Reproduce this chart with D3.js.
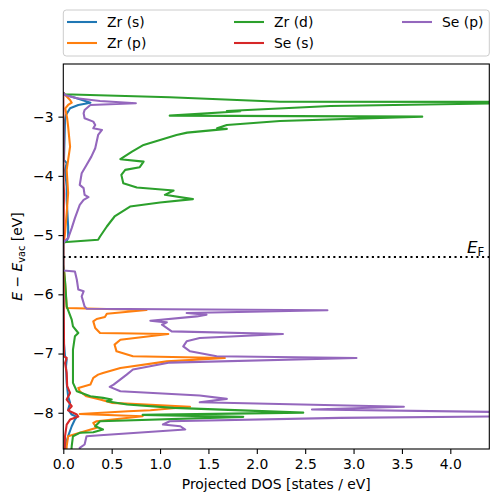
<!DOCTYPE html>
<html><head><meta charset="utf-8">
<script src="https://cdn.jsdelivr.net/npm/d3@7"></script>
<style>body{margin:0;background:#fff}svg{display:block;font-family:"DejaVu Sans",sans-serif}</style>
</head><body><div id="chart"></div>
<script>
// ---- data: [energy (eV), projected DOS (states/eV)] ----
const seriesNames = ["Zr (s)", "Zr (p)", "Zr (d)", "Se (s)", "Se (p)"];
const seriesColors = ["#1f77b4", "#ff7f0e", "#2ca02c", "#d62728", "#9467bd"];
const fermiLevel = -5.37;
const xTicks = [0, 0.5, 1, 1.5, 2, 2.5, 3, 3.5, 4];
const yTicks = [-3, -4, -5, -6, -7, -8];

const zrS = [[-2.60,0],[-2.622,0],[-2.69,0.14],[-2.764,0.28],[-2.803,0.155],[-2.858,0.07],[-2.97,0.028],[-3.056,0.018],[-3.73,0.007],[-3.786,0.035],[-3.899,0.018],[-4.18,0.035],[-4.405,0.035],[-4.855,0.05],[-5.05,0.05],[-5.096,0.035],[-5.13,0],
 [-5.6,0],[-6.8,0.005],[-7.047,0.018],[-7.103,0.035],[-7.216,0.028],[-7.496,0.035],[-7.722,0.05],[-7.833,0.07],[-7.946,0.05],[-8.03,0.087],[-8.07,0.14],[-8.115,0.12],[-8.228,0.087],[-8.396,0.05],[-8.565,0.018],[-8.7,0.01]];

const zrP = [[-2.60,0],[-2.634,0.02],[-2.718,0.07],[-2.764,0.087],[-2.803,0.05],[-2.86,0.02],[-3.027,0.04],[-3.17,0.05],[-3.506,0.07],[-3.90,0.035],[-4.29,0.05],[-4.63,0.035],[-4.966,0.018],[-5.11,0.007],[-5.15,0],
 [-5.50,0],[-5.585,0.007],[-5.81,0.018],[-6.204,0.035],[-6.231,0.035],[-6.265,0.86],[-6.327,0.45],[-6.383,0.43],[-6.417,0.345],[-6.457,0.31],[-6.568,0.33],[-6.653,0.38],[-6.67,1.085],[-6.766,0.59],[-6.85,0.53],[-6.963,0.55],[-7.047,0.72],[-7.074,1.67],[-7.132,1.07],[-7.243,0.59],[-7.327,0.41],[-7.356,0.36],[-7.41,0.31],[-7.524,0.28],[-7.58,0.155],[-7.637,0.17],[-7.722,0.24],[-7.777,0.38],[-7.833,0.50],[-7.90,1.31],[-7.958,0.90],[-7.975,0.67],[-8.022,0.17],[-8.059,0.82],[-8.143,0.345],[-8.17,0.31],[-8.255,0.345],[-8.339,0.17],[-8.396,0.05],[-8.565,0.035],[-8.7,0.03]];

const zrD = [[-2.60,0],[-2.622,0],[-2.673,1.10],[-2.747,2.24],[-2.752,5.5],[-2.820,2.76],[-2.904,1.69],[-2.91,1.83],[-2.983,1.10],[-3.0,3.71],[-3.073,2.24],[-3.140,1.69],[-3.196,1.59],[-3.207,1.69],[-3.27,1.28],[-3.309,1.17],[-3.477,0.83],[-3.59,0.71],[-3.718,0.59],[-3.759,0.83],[-3.853,0.79],[-3.899,0.64],[-3.983,0.60],[-4.123,0.62],[-4.197,0.76],[-4.248,1.14],[-4.320,1.05],[-4.393,1.34],[-4.450,1.0],[-4.518,0.69],[-4.686,0.53],[-4.855,0.45],[-5.024,0.38],[-5.079,0.36],[-5.118,0.035],[-5.125,0],
 [-5.50,0],[-5.55,0.005],[-5.81,0.02],[-6.204,0.035],[-6.428,0.087],[-6.541,0.10],[-6.653,0.155],[-6.71,0.12],[-6.934,0.10],[-7.216,0.10],[-7.496,0.10],[-7.637,0.14],[-7.722,0.28],[-7.749,0.41],[-7.777,0.50],[-7.806,0.45],[-7.862,0.66],[-7.917,1.14],[-7.998,2.48],[-8.036,0.82],[-8.069,1.86],[-8.143,0.38],[-8.228,0.33],[-8.283,0.41],[-8.329,0.31],[-8.339,0.17],[-8.396,0.10],[-8.565,0.087],[-8.7,0.08]];

const seS = [[-2.60,0],[-4.1,0.003],[-4.3,0.008],[-4.5,0.005],[-5.1,0.003],[-5.13,0],
 [-5.5,0],[-6.0,0.003],[-6.9,0.008],[-7.047,0.007],[-7.074,0.035],[-7.16,0.018],[-7.327,0.035],[-7.55,0.04],[-7.665,0.07],[-7.777,0.035],[-7.89,0.087],[-7.96,0.05],[-8.03,0.14],[-8.064,0.155],[-8.115,0.07],[-8.199,0.035],[-8.396,0.018],[-8.7,0.01]];

const seP = [[-2.60,0],[-2.634,0.018],[-2.69,0.14],[-2.735,0.38],[-2.774,0.75],[-2.803,0.28],[-2.887,0.22],[-2.943,0.21],[-3.027,0.22],[-3.084,0.31],[-3.14,0.33],[-3.196,0.31],[-3.224,0.40],[-3.309,0.36],[-3.533,0.33],[-3.675,0.29],[-3.815,0.24],[-3.955,0.19],[-4.152,0.17],[-4.207,0.21],[-4.32,0.22],[-4.359,0.26],[-4.405,0.21],[-4.489,0.17],[-4.713,0.12],[-4.882,0.087],[-5.05,0.05],[-5.096,0.018],[-5.13,0],
 [-5.5,0],[-5.597,0],[-5.614,0.12],[-5.754,0.14],[-5.92,0.155],[-5.95,0.21],[-6.035,0.19],[-6.204,0.22],[-6.243,0.24],[-6.268,2.73],[-6.315,1.275],[-6.344,1.48],[-6.373,1.38],[-6.445,0.90],[-6.474,1.07],[-6.513,1.02],[-6.626,1.12],[-6.67,2.27],[-6.737,1.41],[-6.794,1.275],[-6.879,1.24],[-6.963,1.31],[-7.047,1.585],[-7.074,3.03],[-7.153,1.10],[-7.27,0.72],[-7.356,0.655],[-7.524,0.52],[-7.563,0.48],[-7.637,0.59],[-7.71,1.41],[-7.766,1.69],[-7.823,1.41],[-7.90,3.52],[-7.946,2.57],[-8.03,6.5],[-8.086,2.86],[-8.143,1.10],[-8.199,1.03],[-8.228,1.21],[-8.283,1.26],[-8.379,0.38],[-8.396,0.24],[-8.536,0.22],[-8.592,0.17],[-8.7,0.17]];

const seriesData = [zrS, zrP, zrD, seS, seP];

// ---- layout ----
const W = 498, H = 502;
const L = 63.3, R = 489.3, T = 64, B = 449;
const fs = 13.9;

const svg = d3.select("#chart").append("svg").attr("width", W).attr("height", H);
const x = d3.scaleLinear().domain([0, 4.403]).range([L, R]);
const y = d3.scaleLinear().domain([-8.612, -2.111]).range([B, T]);

svg.append("defs").append("clipPath").attr("id", "clip")
  .append("rect").attr("x", L).attr("y", T).attr("width", R - L).attr("height", B - T);

const line = d3.line().x(d => x(d[1])).y(d => y(d[0]));
const g = svg.append("g").attr("clip-path", "url(#clip)");
seriesData.forEach((s, i) => {
  g.append("path").datum(s).attr("d", line).attr("fill", "none")
    .attr("stroke", seriesColors[i]).attr("stroke-width", 2.08)
    .attr("stroke-linejoin", "round").attr("stroke-linecap", "square");
});

// Fermi level
g.append("line").attr("x1", L).attr("x2", R).attr("y1", y(fermiLevel)).attr("y2", y(fermiLevel))
  .attr("stroke", "#000").attr("stroke-width", 2.08).attr("stroke-dasharray", "2.08,3.43");
const ef = svg.append("text").attr("x", R - 5).attr("y", y(fermiLevel) - 4).attr("text-anchor", "end")
  .attr("font-size", 16.7).attr("fill", "#000");
ef.append("tspan").attr("font-style", "italic").text("E");
ef.append("tspan").attr("font-size", 11.7).attr("dy", 3).text("F");

// axes
const xAxis = d3.axisBottom(x).tickValues(xTicks).tickFormat(d3.format(".1f")).tickSizeOuter(0).tickSize(4.9).tickPadding(4.9);
const yAxis = d3.axisLeft(y).tickValues(yTicks).tickFormat(d => "\u2212" + Math.abs(d)).tickSizeOuter(0).tickSize(4.9).tickPadding(4.9);
const gx = svg.append("g").attr("transform", `translate(0,${B})`).call(xAxis);
const gy = svg.append("g").attr("transform", `translate(${L},0)`).call(yAxis);
[gx, gy].forEach(a => {
  a.select(".domain").remove();
  a.selectAll("line").attr("stroke", "#000").attr("stroke-width", 1.1);
  a.selectAll("text").attr("font-size", fs).attr("font-family", "DejaVu Sans").attr("fill", "#000");
});
svg.append("rect").attr("x", L).attr("y", T).attr("width", R - L).attr("height", B - T)
  .attr("fill", "none").attr("stroke", "#000").attr("stroke-width", 1.1);

svg.append("text").attr("x", (L + R) / 2).attr("y", 489).attr("text-anchor", "middle")
  .attr("font-size", fs).text("Projected DOS [states / eV]");

const yl = svg.append("text").attr("transform", `translate(22,${(T + B) / 2}) rotate(-90)`)
  .attr("text-anchor", "middle").attr("font-size", fs);
yl.append("tspan").attr("font-style", "italic").text("E");
yl.append("tspan").text(" \u2212 ");
yl.append("tspan").attr("font-style", "italic").text("E");
yl.append("tspan").attr("font-size", 9.7).attr("dy", 2.5).text("vac");
yl.append("tspan").attr("dy", -2.5).text(" [eV]");

// legend
const lg = svg.append("g");
lg.append("rect").attr("x", L).attr("y", 10).attr("width", R - L).attr("height", 46).attr("rx", 3)
  .attr("fill", "#fff").attr("fill-opacity", 0.8).attr("stroke", "#ccc").attr("stroke-width", 1);
const colX = [67, 234, 402];
const rowY = [22, 43];
const order = [[0, 0, 0], [1, 0, 1], [2, 1, 0], [3, 1, 1], [4, 2, 0]];
order.forEach(([i, c, r]) => {
  lg.append("line").attr("x1", colX[c]).attr("x2", colX[c] + 30).attr("y1", rowY[r]).attr("y2", rowY[r])
    .attr("stroke", seriesColors[i]).attr("stroke-width", 2.08);
  lg.append("text").attr("x", colX[c] + 40).attr("y", rowY[r] + 5).attr("font-size", fs).text(seriesNames[i]);
});
</script></body></html>
